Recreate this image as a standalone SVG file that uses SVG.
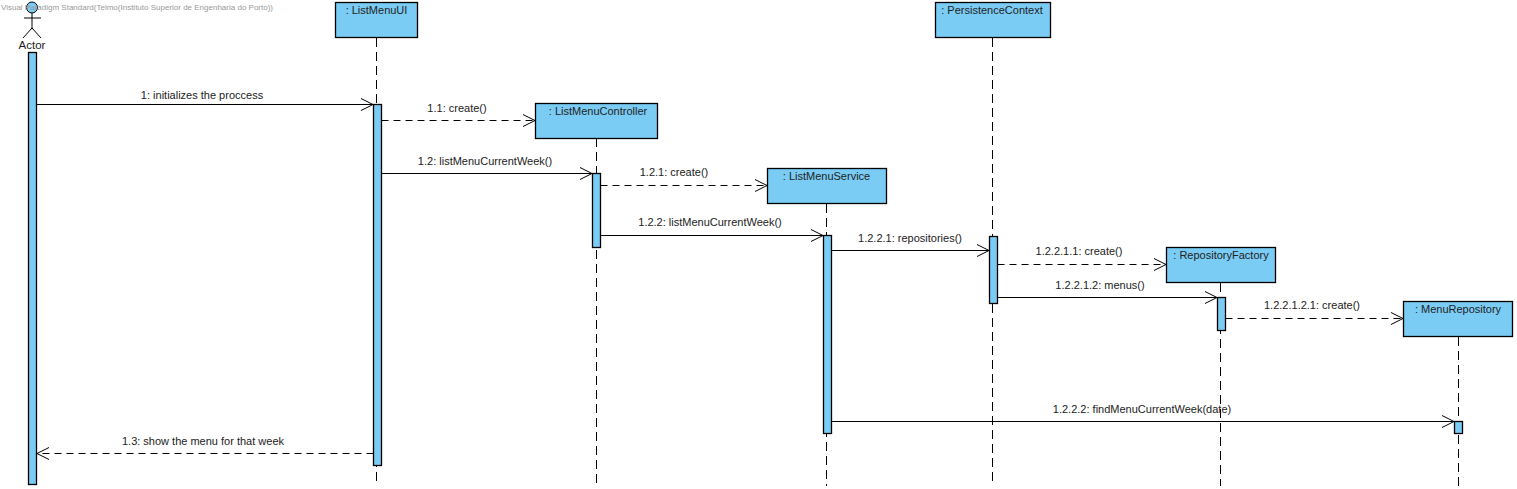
<svg xmlns="http://www.w3.org/2000/svg" width="1517" height="489" viewBox="0 0 1517 489">
<defs>
<marker id="open" markerUnits="userSpaceOnUse" markerWidth="14" markerHeight="14" refX="13" refY="7" orient="auto-start-reverse" viewBox="0 0 14 14"><path d="M1 1 L13 7 L1 13" fill="none" stroke="#000" stroke-width="1"/></marker>
</defs>
<style>
text{font-family:"Liberation Sans",Arial,sans-serif;font-size:11px;fill:#222}
.box,.act{fill:#7accf5;stroke:#000;stroke-width:1.3}
.life{stroke:#000;stroke-width:1;stroke-dasharray:9 5;fill:none}
.msg{stroke:#000;stroke-width:1;fill:none;marker-end:url(#open)}
.dash{stroke-dasharray:7 5}
.stick{stroke:#000;stroke-width:1;fill:none}
.m{text-anchor:middle}
</style>
<g id="lifelines">
<path class="life" d="M376.500 38V486"/>
<path class="life" d="M596.500 138V486"/>
<path class="life" d="M826.500 204V486"/>
<path class="life" d="M992.500 38V486"/>
<path class="life" d="M1220.500 283V486"/>
<path class="life" d="M1458.500 337V486"/>
</g>
<g id="actor">
<circle cx="32" cy="7.500" r="5.500" fill="#7accf5" stroke="#000"/>
<path class="stick" d="M32 13V28M24 18H41M23 38L32 28L41 38"/>
<text class="m" x="32" y="49" style="font-size:11.500px">Actor</text>
<rect class="act" x="28.500" y="52.500" width="8" height="432"/>
</g>
<g id="listMenuUI">
<rect class="box" x="335.500" y="2.500" width="82" height="35"/>
<text class="m" x="376.500" y="14">: ListMenuUI</text>
<rect class="act" x="373.500" y="104.500" width="8" height="361"/>
</g>
<g id="listMenuController">
<rect class="box" x="535.500" y="103.500" width="122" height="35"/>
<text class="m" x="598" y="115">: ListMenuController</text>
<rect class="act" x="592.500" y="173.500" width="8" height="74"/>
</g>
<g id="listMenuService">
<rect class="box" x="767.500" y="168.500" width="119" height="35"/>
<text class="m" x="826.500" y="180">: ListMenuService</text>
<rect class="act" x="823.500" y="235.500" width="8" height="198"/>
</g>
<g id="persistenceContext">
<rect class="box" x="935.500" y="2.500" width="115" height="35"/>
<text class="m" x="992" y="14">: PersistenceContext</text>
<rect class="act" x="989.500" y="236.500" width="8" height="67"/>
</g>
<g id="repositoryFactory">
<rect class="box" x="1166.500" y="247.500" width="109" height="35"/>
<text class="m" x="1221" y="259">: RepositoryFactory</text>
<rect class="act" x="1217.500" y="297.500" width="8" height="33"/>
</g>
<g id="menuRepository">
<rect class="box" x="1403.500" y="301.500" width="109" height="35"/>
<text class="m" x="1458" y="313">: MenuRepository</text>
<rect class="act" x="1454.500" y="421.500" width="8" height="12"/>
</g>
<g id="connectors">
<path class="msg" d="M36.500 104.500H373"/>
<path class="msg dash" d="M381.500 120.500H535"/>
<path class="msg" d="M381.500 173.500H592"/>
<path class="msg dash" d="M600.500 185.500H767"/>
<path class="msg" d="M600.500 235.500H823"/>
<path class="msg" d="M831.500 250.500H989"/>
<path class="msg dash" d="M997.500 264.500H1166"/>
<path class="msg" d="M997.500 297.500H1217"/>
<path class="msg dash" d="M1225.500 318.500H1403"/>
<path class="msg" d="M831.500 421.500H1454"/>
<path class="msg dash" d="M373.500 453.500H37"/>
</g>
<g id="labels">
<text class="m" x="202" y="99">1: initializes the proccess</text>
<text class="m" x="457" y="112">1.1: create()</text>
<text class="m" x="485" y="165">1.2: listMenuCurrentWeek()</text>
<text class="m" x="674" y="176">1.2.1: create()</text>
<text class="m" x="710" y="226">1.2.2: listMenuCurrentWeek()</text>
<text class="m" x="910" y="242">1.2.2.1: repositories()</text>
<text class="m" x="1079" y="255">1.2.2.1.1: create()</text>
<text class="m" x="1100" y="289">1.2.2.1.2: menus()</text>
<text class="m" x="1312" y="309">1.2.2.1.2.1: create()</text>
<text class="m" x="1142" y="413">1.2.2.2: findMenuCurrentWeek(date)</text>
<text class="m" x="203" y="445">1.3: show the menu for that week</text>
<text x="1" y="10" style="font-size:8px;fill:#999">Visual Paradigm Standard(Telmo(Instituto Superior de Engenharia do Porto))</text>
</g>
</svg>
